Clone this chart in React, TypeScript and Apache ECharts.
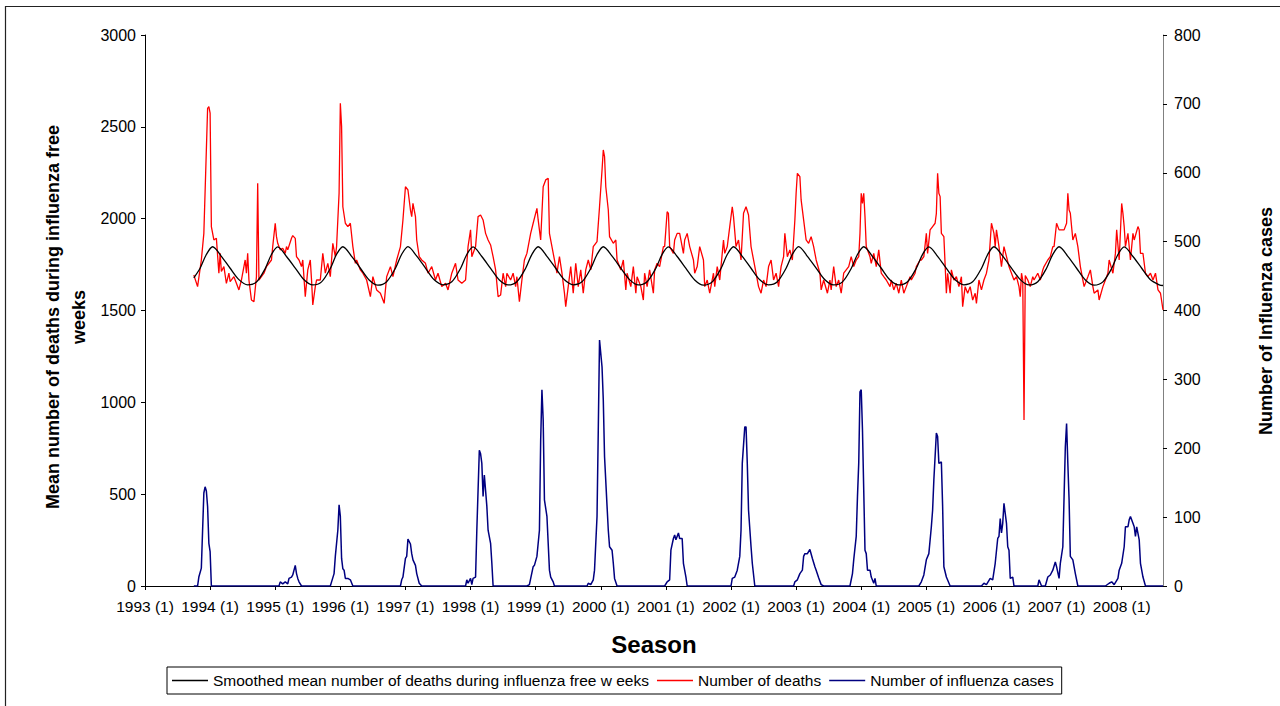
import React, { useEffect, useRef } from "react";
import * as echarts from "echarts";

// Tick labels of the x axis (one per season start, every 52 weeks)
const seasonLabels = [
  "1993 (1)", "1994 (1)", "1995 (1)", "1996 (1)", "1997 (1)", "1998 (1)", "1999 (1)", "2000 (1)",
  "2001 (1)", "2002 (1)", "2003 (1)", "2004 (1)", "2005 (1)", "2006 (1)", "2007 (1)", "2008 (1)",
];
const weeksPerSeason = 52;
const lastWeek = 813;

const seriesNames = [
  "Smoothed mean number of deaths during influenza free w eeks",
  "Number of deaths",
  "Number of influenza cases",
];

// [week index from 1993 (1), value]
const smoothedDeaths: [number, number][] = [
  [39, 1678], [44, 1730], [49, 1805],
  [54, 1847], [61, 1795], [68, 1730], [75, 1668], [82, 1640], [89, 1655], [96, 1728], [101, 1805],
  [106, 1846], [113, 1794], [120, 1731], [127, 1667], [134, 1639], [141, 1656], [148, 1729], [153, 1806],
  [158, 1847], [165, 1795], [172, 1730], [179, 1666], [186, 1638], [193, 1657], [200, 1730], [205, 1806],
  [210, 1848], [217, 1796], [224, 1731], [231, 1667], [238, 1640], [245, 1656], [252, 1729], [257, 1805],
  [262, 1846], [269, 1794], [276, 1729], [283, 1666], [290, 1639], [297, 1657], [304, 1730], [309, 1806],
  [314, 1847], [321, 1795], [328, 1730], [335, 1667], [342, 1640], [349, 1656], [356, 1729], [361, 1805],
  [366, 1847], [373, 1796], [380, 1731], [387, 1668], [394, 1639], [401, 1657], [408, 1730], [413, 1806],
  [418, 1846], [425, 1794], [432, 1729], [439, 1666], [446, 1638], [453, 1656], [460, 1729], [465, 1805],
  [470, 1847], [477, 1795], [484, 1730], [491, 1667], [498, 1640], [505, 1657], [512, 1730], [517, 1806],
  [522, 1848], [529, 1795], [536, 1731], [543, 1667], [550, 1639], [557, 1656], [564, 1729], [569, 1805],
  [574, 1847], [581, 1794], [588, 1730], [595, 1666], [602, 1639], [609, 1657], [616, 1730], [621, 1806],
  [626, 1846], [633, 1795], [640, 1729], [647, 1667], [654, 1640], [661, 1656], [668, 1729], [673, 1805],
  [678, 1847], [685, 1796], [692, 1731], [699, 1668], [706, 1639], [713, 1657], [720, 1730], [725, 1806],
  [730, 1847], [737, 1795], [744, 1730], [751, 1666], [758, 1638], [765, 1656], [772, 1729], [777, 1805],
  [782, 1846], [789, 1794], [796, 1730], [803, 1667], [810, 1640], [813, 1636],
];

const deaths: [number, number][] = [
  [39, 1693], [42, 1630], [45, 1775], [47, 1920], [49, 2374], [50, 2601], [51, 2610], [52, 2574], [53, 1957], [55, 1884],
  [57, 1893], [59, 1703], [60, 1811], [61, 1712], [63, 1739], [65, 1648], [67, 1703], [68, 1657], [71, 1684], [73, 1648],
  [75, 1612], [77, 1666], [80, 1775], [81, 1703], [82, 1811], [83, 1666], [85, 1557], [87, 1548], [89, 1684], [90, 2193],
  [91, 1666], [93, 1684], [95, 1703], [97, 1739], [99, 1757], [101, 1775], [102, 1848], [104, 1975], [105, 1902], [106, 1866],
  [108, 1830], [110, 1839], [112, 1811], [113, 1848], [114, 1830], [117, 1893], [118, 1908], [120, 1893], [121, 1793], [123, 1775],
  [125, 1739], [126, 1775], [128, 1575], [130, 1721], [132, 1775], [133, 1666], [134, 1530], [136, 1630], [137, 1666], [140, 1666],
  [142, 1811], [144, 1703], [146, 1757], [148, 1684], [149, 1775], [150, 1866], [152, 1793], [153, 1848], [155, 2138], [156, 2628],
  [157, 2501], [158, 2065], [160, 1975], [162, 1957], [164, 1975], [166, 1848], [168, 1757], [169, 1775], [172, 1721], [174, 1703],
  [177, 1666], [180, 1575], [182, 1684], [185, 1612], [188, 1594], [191, 1539], [193, 1684], [196, 1739], [198, 1684], [201, 1775],
  [204, 1848], [206, 1993], [208, 2174], [210, 2156], [212, 2047], [213, 2011], [214, 2083], [216, 2011], [217, 1884], [219, 1793],
  [221, 1775], [224, 1757], [226, 1703], [229, 1739], [232, 1666], [234, 1703], [237, 1630], [240, 1648], [242, 1612], [245, 1703],
  [248, 1757], [250, 1666], [253, 1648], [256, 1666], [258, 1848], [260, 1939], [261, 1793], [264, 1848], [266, 2011], [268, 2020],
  [270, 1993], [272, 1920], [274, 1884], [276, 1857], [278, 1793], [280, 1721], [282, 1575], [284, 1584], [286, 1703], [288, 1630],
  [289, 1703], [292, 1666], [294, 1703], [296, 1630], [297, 1684], [299, 1548], [301, 1666], [303, 1775], [305, 1811], [308, 1920],
  [310, 1975], [313, 2056], [314, 1993], [316, 1884], [318, 2174], [320, 2211], [322, 2220], [323, 1920], [325, 1848], [327, 1775],
  [329, 1703], [331, 1793], [333, 1703], [335, 1594], [336, 1521], [338, 1630], [340, 1739], [342, 1594], [344, 1757], [346, 1630],
  [348, 1721], [350, 1594], [352, 1721], [354, 1775], [356, 1721], [358, 1848], [361, 1875], [363, 2065], [365, 2265], [366, 2374],
  [367, 2338], [368, 2174], [370, 2047], [371, 1902], [374, 1866], [376, 1884], [377, 1775], [380, 1721], [382, 1775], [384, 1612],
  [385, 1703], [388, 1630], [390, 1739], [392, 1594], [393, 1684], [396, 1630], [398, 1557], [399, 1703], [401, 1630], [403, 1721],
  [406, 1594], [407, 1721], [409, 1757], [411, 1739], [414, 1848], [415, 1848], [417, 2038], [418, 2029], [419, 1848], [422, 1811],
  [423, 1884], [425, 1920], [427, 1920], [430, 1811], [431, 1884], [433, 1920], [435, 1848], [438, 1775], [439, 1703], [441, 1739],
  [443, 1848], [446, 1775], [447, 1630], [449, 1666], [451, 1594], [454, 1703], [455, 1630], [457, 1739], [459, 1666], [462, 1884],
  [463, 1811], [465, 1848], [467, 1957], [469, 2065], [470, 2011], [472, 1848], [474, 1884], [476, 1775], [478, 2029], [480, 2065],
  [482, 2020], [484, 1848], [486, 1775], [488, 1703], [490, 1630], [492, 1594], [494, 1666], [496, 1630], [498, 1739], [500, 1775],
  [502, 1666], [504, 1703], [506, 1630], [508, 1739], [510, 1793], [511, 1920], [513, 1793], [515, 1830], [517, 1775], [519, 1993],
  [520, 2138], [521, 2247], [523, 2229], [524, 2102], [526, 1993], [528, 1884], [530, 1866], [532, 1902], [534, 1848], [536, 1775],
  [539, 1703], [540, 1612], [542, 1666], [545, 1594], [547, 1666], [548, 1612], [550, 1739], [552, 1630], [554, 1666], [556, 1594],
  [558, 1703], [560, 1721], [562, 1739], [564, 1793], [566, 1739], [568, 1775], [570, 1793], [571, 1920], [572, 2138], [573, 2083],
  [574, 2138], [575, 2011], [576, 1848], [579, 1793], [580, 1757], [582, 1811], [584, 1739], [586, 1830], [588, 1703], [590, 1684],
  [592, 1666], [595, 1630], [596, 1666], [598, 1612], [600, 1648], [602, 1594], [604, 1666], [606, 1594], [608, 1630], [611, 1684],
  [612, 1666], [615, 1703], [616, 1739], [619, 1775], [620, 1775], [622, 1793], [624, 1920], [625, 1811], [627, 1939], [629, 1957],
  [631, 1975], [632, 2029], [633, 2247], [634, 2138], [635, 2120], [636, 1920], [638, 1902], [640, 1594], [641, 1703], [643, 1594],
  [644, 1721], [646, 1666], [648, 1684], [650, 1630], [652, 1684], [653, 1521], [655, 1630], [657, 1594], [659, 1630], [661, 1557],
  [663, 1594], [664, 1539], [666, 1666], [668, 1612], [670, 1666], [672, 1703], [674, 1775], [676, 1975], [678, 1920], [679, 1848],
  [680, 1939], [682, 1848], [684, 1739], [686, 1848], [688, 1793], [690, 1739], [692, 1703], [694, 1666], [696, 1684], [698, 1630],
  [699, 1575], [700, 1703], [701, 1666], [702, 904], [703, 1690], [705, 1666], [707, 1630], [709, 1684], [710, 1666], [713, 1703],
  [715, 1666], [717, 1721], [718, 1739], [721, 1775], [723, 1793], [725, 1848], [726, 1848], [728, 1975], [730, 1939], [732, 1939],
  [734, 1939], [736, 1975], [737, 2138], [738, 2047], [739, 2029], [741, 1884], [743, 1920], [745, 1848], [747, 1739], [749, 1666],
  [750, 1630], [753, 1684], [755, 1721], [757, 1630], [758, 1594], [761, 1612], [762, 1557], [765, 1630], [767, 1666], [769, 1703],
  [770, 1775], [773, 1703], [775, 1811], [776, 1939], [778, 1775], [780, 2083], [781, 2029], [782, 1957], [783, 1848], [785, 1920],
  [787, 1775], [789, 1920], [790, 1884], [793, 1957], [794, 1939], [795, 1811], [797, 1811], [799, 1703], [801, 1684], [803, 1703],
  [805, 1666], [807, 1703], [809, 1612], [811, 1594], [813, 1503],
];

const influenzaCases: [number, number][] = [
  [39, 0], [42, 0], [43, 13], [45, 26], [46, 81], [47, 135], [48, 144], [49, 138], [50, 115], [51, 62], [52, 50], [53, 0],
  [107, 0], [108, 6], [110, 3], [112, 6], [114, 3], [115, 11], [117, 13], [118, 16], [120, 30], [121, 18], [122, 11], [123, 6], [125, 0],
  [148, 0], [149, 6], [151, 18], [152, 43], [154, 81], [155, 118], [156, 101], [157, 40], [158, 25], [159, 23], [160, 11], [162, 11], [164, 9], [166, 0],
  [204, 0], [205, 9], [206, 13], [208, 40], [209, 43], [210, 68], [212, 61], [213, 47], [214, 38], [216, 30], [217, 18], [219, 4], [221, 0],
  [256, 0], [257, 9], [258, 4], [260, 11], [261, 2], [262, 11], [264, 13], [265, 81], [267, 197], [268, 192], [269, 178], [270, 130], [271, 161], [273, 116], [274, 81], [276, 62], [277, 33], [278, 0],
  [305, 0], [307, 2], [310, 28], [311, 30], [313, 43], [315, 81], [316, 212], [317, 285], [318, 241], [319, 125], [321, 101], [323, 23], [324, 13], [326, 6], [327, 0],
  [353, 0], [354, 4], [356, 2], [358, 9], [359, 23], [361, 101], [362, 226], [363, 357], [365, 318], [366, 270], [367, 188], [369, 116], [370, 81], [371, 57], [373, 52], [374, 33], [375, 11], [377, 0],
  [415, 0], [417, 6], [419, 9], [420, 52], [422, 69], [423, 74], [424, 67], [426, 77], [427, 69], [429, 69], [430, 33], [432, 13], [433, 0],
  [468, 0], [469, 11], [471, 13], [473, 23], [475, 43], [476, 81], [477, 178], [479, 231], [480, 231], [481, 178], [482, 110], [484, 57], [485, 33], [487, 0],
  [518, 0], [519, 6], [521, 9], [523, 18], [525, 23], [526, 43], [527, 47], [529, 47], [531, 53], [533, 40], [535, 28], [536, 23], [538, 12], [540, 2], [542, 0],
  [563, 0], [565, 18], [566, 38], [568, 72], [569, 130], [570, 178], [571, 282], [572, 285], [573, 226], [574, 139], [575, 52], [576, 47], [577, 23], [579, 23], [580, 13], [582, 4], [583, 11], [584, 0],
  [618, 0], [620, 6], [622, 16], [624, 38], [626, 47], [628, 86], [629, 110], [630, 154], [632, 222], [633, 217], [634, 178], [636, 180], [637, 116], [638, 28], [640, 13], [643, 0],
  [668, 0], [670, 4], [672, 2], [675, 11], [677, 9], [679, 33], [681, 69], [682, 72], [683, 98], [684, 77], [685, 91], [686, 120], [688, 91], [689, 57], [690, 52], [691, 11], [693, 13], [694, 0],
  [713, 0], [714, 9], [716, 0], [719, 0], [721, 13], [723, 16], [725, 23], [727, 35], [728, 28], [730, 11], [731, 33], [733, 57], [734, 130], [735, 202], [736, 236], [737, 178], [738, 125], [739, 43], [741, 38], [743, 18], [745, 0],
  [767, 0], [770, 4], [772, 6], [774, 2], [777, 11], [778, 23], [780, 33], [782, 57], [783, 86], [785, 86], [786, 96], [787, 101], [789, 91], [790, 86], [791, 72], [792, 86], [794, 67], [795, 33], [797, 13], [799, 0], [813, 0],
];

const FONT = "'Liberation Sans', Arial, Helvetica, sans-serif";

export default function App() {
  const ref = useRef<HTMLDivElement>(null);

  useEffect(() => {
    if (!ref.current) return;
    const chart = echarts.init(ref.current, undefined, { renderer: "svg" });
    chart.setOption({
      animation: false,
      backgroundColor: "#ffffff",
      textStyle: { fontFamily: FONT },
      grid: { left: 145, right: 117, top: 35, bottom: 120, containLabel: false },
      legend: {
        left: 167,
        top: 667,
        orient: "horizontal",
        padding: [5, 8, 5, 5],
        icon: "rect",
        itemWidth: 36,
        itemHeight: 1.5,
        itemGap: 8,
        borderColor: "#000",
        borderWidth: 1,
        textStyle: { fontFamily: FONT, fontSize: 15.5, color: "#000", lineHeight: 17 },
        data: seriesNames,
      },
      xAxis: {
        type: "value",
        min: 0,
        max: lastWeek,
        interval: weeksPerSeason,
        name: "Season",
        nameLocation: "middle",
        nameGap: 46,
        nameTextStyle: { fontFamily: FONT, fontSize: 24, fontWeight: "bold", color: "#000" },
        axisLine: { show: true, onZero: false, lineStyle: { color: "#000", width: 1 } },
        axisTick: { show: true, length: 4, lineStyle: { color: "#000" } },
        splitLine: { show: false },
        axisLabel: {
          color: "#000",
          fontSize: 15.5,
          fontFamily: FONT,
          margin: 12,
          showMaxLabel: false,
          formatter: (v: number) => {
            const i = v / weeksPerSeason;
            return Number.isInteger(i) && i < seasonLabels.length ? seasonLabels[i] : "";
          },
        },
      },
      yAxis: [
        {
          type: "value",
          min: 0,
          max: 3000,
          interval: 500,
          position: "left",
          axisLine: { show: true, lineStyle: { color: "#000", width: 1 } },
          axisTick: { show: true, length: 4, lineStyle: { color: "#000" } },
          splitLine: { show: false },
          axisLabel: { color: "#000", fontSize: 16, fontFamily: FONT, margin: 9, formatter: (v: number) => String(v) },
        },
        {
          type: "value",
          min: 0,
          max: 800,
          interval: 100,
          position: "right",
          axisLine: { show: true, lineStyle: { color: "#808080", width: 1 } },
          axisTick: { show: true, length: 4, lineStyle: { color: "#000" } },
          splitLine: { show: false },
          axisLabel: { color: "#000", fontSize: 16, fontFamily: FONT, margin: 11, formatter: (v: number) => String(v) },
        },
      ],
      series: [
        {
          name: seriesNames[0],
          type: "line",
          data: smoothedDeaths,
          yAxisIndex: 0,
          symbol: "none",
          smooth: 0.3,
          lineStyle: { color: "#000000", width: 1.3 },
          itemStyle: { color: "#000000" },
          z: 3,
        },
        {
          name: seriesNames[1],
          type: "line",
          data: deaths,
          yAxisIndex: 0,
          symbol: "none",
          lineStyle: { color: "#ff0000", width: 1.3 },
          itemStyle: { color: "#ff0000" },
          z: 2,
        },
        {
          name: seriesNames[2],
          type: "line",
          data: influenzaCases,
          yAxisIndex: 1,
          symbol: "none",
          lineStyle: { color: "#000080", width: 1.5 },
          itemStyle: { color: "#000080" },
          z: 2,
        },
      ],
      graphic: [
        {
          type: "rect",
          shape: { x: 5.5, y: 6.5, width: 1300, height: 800 },
          style: { fill: "none", stroke: "#222", lineWidth: 1.2 },
          silent: true,
        },
        {
          type: "text",
          x: 66,
          y: 317,
          rotation: Math.PI / 2,
          style: {
            text: "Mean number of deaths during influenza free\nweeks",
            fontFamily: FONT,
            fontSize: 18,
            fontWeight: "bold",
            fill: "#000",
            align: "center",
            verticalAlign: "middle",
            lineHeight: 26,
          },
        },
        {
          type: "text",
          x: 1266,
          y: 321,
          rotation: Math.PI / 2,
          style: {
            text: "Number of Influenza cases",
            fontFamily: FONT,
            fontSize: 18,
            fontWeight: "bold",
            fill: "#000",
            align: "center",
            verticalAlign: "middle",
          },
        },
      ],
    });
    return () => chart.dispose();
  }, []);

  return (
    <div
      ref={ref}
      style={{ position: "fixed", left: 0, top: 0, width: 1280, height: 706, background: "#fff" }}
    />
  );
}
